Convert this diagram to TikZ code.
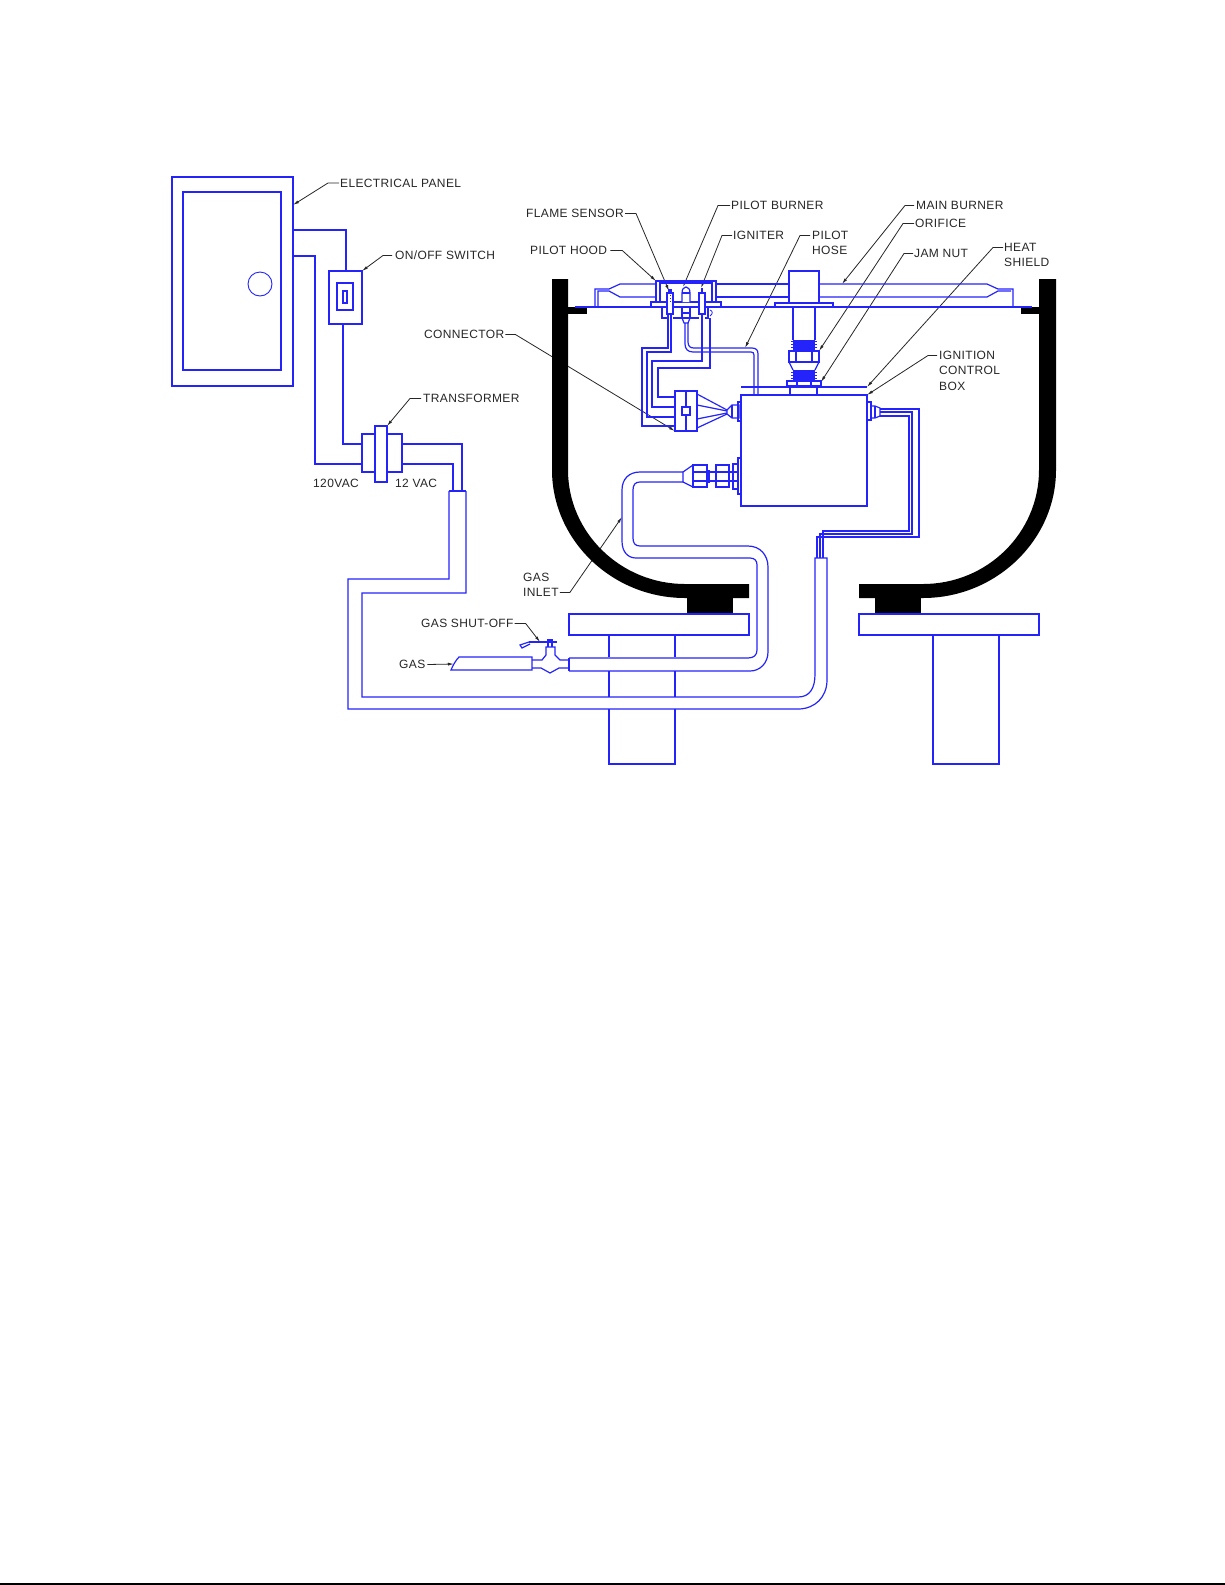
\documentclass[tikz,border=0pt]{standalone}
\usepackage{fontspec}
\setmainfont[LetterSpace=3]{Liberation Sans}
\usetikzlibrary{arrows.meta}
\definecolor{lineblue}{RGB}{36,36,250}
\tikzset{
  pipe/.style={draw=lineblue, line width=1.2pt, line join=miter},
  thickpipe/.style={draw=lineblue, line width=2.4pt},
  wall/.style={fill=black, draw=none},
  lbl/.style={anchor=west, inner sep=0pt, yshift=-0.5pt, text=black!85, font=\fontsize{12}{14}\selectfont},
  leader/.style={draw=black!85, line width=0.8pt, -{Latex[length=6pt,width=3pt]}}
}

\begin{document}
\begin{tikzpicture}[x=1pt, y=-1pt]
  \useasboundingbox (0, 0) rectangle (1225, 1585);
  \fill[black] (0, 1583) rectangle (1225, 1585);

  % labels
  \node[lbl] (panellbl) at (340, 182.5) {ELECTRICAL PANEL};
  \node[lbl] (switchlbl) at (395, 255) {ON/OFF SWITCH};
  \node[lbl] (connlbl) at (424, 334) {CONNECTOR};
  \node[lbl] (translbl) at (423, 398) {TRANSFORMER};
  \node[lbl] (acleft) at (313, 483) {120VAC};
  \node[lbl] (acright) at (395, 483) {12 VAC};
  \node[lbl] (sensorlbl) at (526, 213) {FLAME SENSOR};
  \node[lbl] (pilotlbl) at (731, 205) {PILOT BURNER};
  \node[lbl] (igniterlbl) at (733, 235) {IGNITER};
  \node[lbl] (hoodlbl) at (530, 250) {PILOT HOOD};
  \node[lbl] (hoselbl) at (812, 235) {PILOT};
  \node[lbl] (hoselblb) at (812, 250) {HOSE};
  \node[lbl] (mainlbl) at (916, 205) {MAIN BURNER};
  \node[lbl] (orificelbl) at (915, 223) {ORIFICE};
  \node[lbl] (jamlbl) at (914, 253) {JAM NUT};
  \node[lbl] (heatlbl) at (1004, 247) {HEAT};
  \node[lbl] (heatlblb) at (1004, 262) {SHIELD};
  \node[lbl] (boxlbl) at (939, 355) {IGNITION};
  \node[lbl] (boxlblb) at (939, 370) {CONTROL};
  \node[lbl] (boxlblc) at (939, 386) {BOX};
  \node[lbl] (inletlbl) at (523, 577) {GAS};
  \node[lbl] (inletlblb) at (523, 592) {INLET};
  \node[lbl] (shutlbl) at (421, 623) {GAS SHUT-OFF};
  \node[lbl] (gaslbl) at (399, 664) {GAS};

  % ends of the leaders
  \coordinate (panelpt) at (293, 205);
  \coordinate (switchpt) at (362, 271);
  \coordinate (connpt) at (675, 431);
  \coordinate (transpt) at (387, 426);
  \coordinate (sensorpt) at (669, 291);
  \coordinate (pilotpt) at (683, 287);
  \coordinate (igniterpt) at (701, 288);
  \coordinate (hoodpt) at (656, 281);
  \coordinate (hosept) at (745, 348);
  \coordinate (mainpt) at (842, 284);
  \coordinate (orificept) at (819, 351);
  \coordinate (jampt) at (821, 382);
  \coordinate (heatpt) at (867, 387);
  \coordinate (boxpt) at (867, 395);
  \coordinate (inletpt) at (622, 517);
  \coordinate (shutpt) at (540, 642);
  \coordinate (gaspt) at (454, 664);

  % leaders, the bowl covers them
  \draw[leader] (panellbl.west) ++(-1, 0) -- ++(-11, 0) -- (panelpt);
  \draw[leader] (switchlbl.west) ++(-3, 0) -- ++(-9, 0) -- (switchpt);
  \draw[leader] (connlbl.east) ++(1, 0) -- ++(10, 0) -- (connpt);
  \draw[leader] (translbl.west) ++(-2, 0) -- ++(-11, 0) -- (transpt);
  \draw[leader] (sensorlbl.east) ++(1, 0) -- ++(11, 0) -- (sensorpt);
  \draw[leader] (pilotlbl.west) ++(-1, 0) -- ++(-12, 0) -- (pilotpt);
  \draw[leader] (igniterlbl.west) ++(-1, 0) -- ++(-10, 0) -- (igniterpt);
  \draw[leader] (hoodlbl.east) ++(3, 0) -- ++(12, 0) -- (hoodpt);
  \draw[leader] (hoselbl.west) ++(-2, 0) -- ++(-10, 0) -- (hosept);
  \draw[leader] (mainlbl.west) ++(-2, 0) -- ++(-9, 0) -- (mainpt);
  \draw[leader] (orificelbl.west) ++(-1, 0) -- ++(-11, 0) -- (orificept);
  \draw[leader] (jamlbl.west) ++(-1, 0) -- ++(-9, 0) -- (jampt);
  \draw[leader] (heatlbl.west) ++(-1, 0) -- ++(-10, 0) -- (heatpt);
  \draw[leader] (boxlbl.west) ++(-2, 0) -- ++(-9, 0) -- (boxpt);
  \draw[leader] (inletlblb.east) ++(1, 0) -- ++(10, 0) -- (inletpt);
  \draw[leader] (shutlbl.east) ++(1, 0) -- ++(11, 0) -- (shutpt);
  \draw[leader] (gaslbl.east) ++(2, 0) -- (gaspt);

  % bowl and its feet
  \fill[wall] (552, 279) -- (552, 470) .. controls (552, 540) and (612, 598) .. (685, 598)
    -- (749, 598) -- (749, 584) -- (685, 584) .. controls (621, 584) and (568, 533) .. (568, 470)
    -- (568, 279) -- cycle;
  \fill[wall] (1056, 279) -- (1056, 470) .. controls (1056, 540) and (996, 598) .. (923, 598)
    -- (859, 598) -- (859, 584) -- (923, 584) .. controls (987, 584) and (1039, 533) .. (1039, 470)
    -- (1039, 279) -- cycle;
  \fill[wall] (687, 590) rectangle (733, 614);
  \fill[wall] (875, 590) rectangle (921, 614);
  \fill[wall] (568, 307) rectangle (587, 314);
  \fill[wall] (1021, 307) rectangle (1039, 314);

  % pedestals
  \draw[pipe] (569, 614) rectangle (749, 635);
  \draw[pipe] (859, 614) rectangle (1039, 635);
  \draw[pipe] (933, 635) -- (933, 764) -- (999, 764) -- (999, 635);
  \draw[pipe] (609, 635) -- (609, 657);
  \draw[pipe] (675, 635) -- (675, 657);
  \draw[pipe] (609, 671) -- (609, 697);
  \draw[pipe] (675, 671) -- (675, 697);
  \draw[pipe] (609, 709) -- (609, 764) -- (675, 764) -- (675, 709);

  % electrical panel and switch
  \draw[pipe] (172, 177) rectangle (293, 386);
  \draw[pipe] (183, 192) rectangle (281, 370);
  \draw[pipe, line width=0.9pt] (260, 284) circle (12);
  \draw[pipe] (329, 271) rectangle (362, 324);
  \draw[pipe] (337, 283) rectangle (353, 310);
  \draw[pipe] (343, 291) rectangle (347, 303);
  \draw[pipe] (293, 230) -- (346, 230) -- (346, 271);
  \draw[pipe] (293, 256) -- (315, 256) -- (315, 464) -- (362, 464);
  \draw[pipe] (343, 324) -- (343, 444) -- (362, 444);

  % transformer
  \draw[pipe] (362, 434) rectangle (402, 472);
  \draw[pipe, fill=white] (375, 426) rectangle (387, 482);
  \draw[pipe] (402, 444) -- (462, 444) -- (462, 491);
  \draw[pipe] (402, 464) -- (453, 464) -- (453, 491);

  % conduit
  \draw[pipe] (449, 491) -- (466, 491);
  \draw[pipe] (449, 491) -- (449, 579) -- (348, 579) -- (348, 709) -- (798, 709)
    .. controls (815, 709) and (827, 697) .. (827, 680) -- (827, 558) -- (815, 558)
    -- (815, 674) .. controls (815, 688) and (810, 697) .. (798, 697)
    -- (362, 697) -- (362, 593) -- (466, 593) -- (466, 491);

  % burner and shield line
  \draw[thickpipe, line width=1.9pt] (575, 307) -- (1032, 307);
  \draw[pipe] (595, 307) -- (595, 289) -- (609, 289) -- (620, 284) -- (656, 284);
  \draw[pipe] (598, 307) -- (598, 291) -- (609, 291) -- (620, 297) -- (656, 297);
  \draw[pipe] (716, 284) -- (789, 284);
  \draw[pipe] (716, 297) -- (789, 297);
  \draw[pipe] (819, 284) -- (987, 284) -- (998, 289) -- (1013, 289) -- (1013, 307);
  \draw[pipe] (819, 297) -- (987, 297) -- (998, 291) -- (1011, 291);

  % burner post, orifice and jam nut
  \draw[pipe] (789, 303) -- (789, 271) -- (819, 271) -- (819, 303);
  \draw[pipe] (775, 303) rectangle (833, 307);
  \draw[pipe] (793, 307) -- (793, 340);
  \draw[pipe] (815, 307) -- (815, 340);
  \fill[lineblue] (793, 340) rectangle (815, 351);
  \foreach \yy in {341, 344, 347} {
    \draw[pipe, line width=0.8pt] (791, \yy) -- (817, \yy);
  }
  \draw[pipe] (789, 351) rectangle (819, 362);
  \draw[pipe] (796, 351) -- (796, 362);
  \draw[pipe] (812, 351) -- (812, 362);
  \draw[pipe] (789, 362) -- (793, 370);
  \draw[pipe] (819, 362) -- (815, 370);
  \fill[lineblue] (793, 370) rectangle (815, 381);
  \foreach \yy in {372, 375, 378} {
    \draw[pipe, line width=0.8pt] (791, \yy) -- (817, \yy);
  }
  \draw[pipe] (787, 381) rectangle (821, 386);
  \draw[pipe] (797, 381) -- (797, 386);
  \draw[pipe] (811, 381) -- (811, 386);
  \draw[thickpipe] (741, 387) -- (867, 387);
  \draw[pipe] (790, 388) -- (790, 395);
  \draw[pipe] (817, 388) -- (817, 395);

  % control box
  \draw[pipe] (741, 395) rectangle (867, 506);

  % pilot hood and its parts
  \draw[pipe] (656, 302) -- (656, 281) -- (716, 281) -- (716, 302);
  \draw[pipe] (660, 302) -- (660, 283) -- (712, 283) -- (712, 302);
  \draw[pipe] (651, 302) rectangle (721, 307);
  \draw[thickpipe, line width=1.5pt] (662, 307) -- (662, 318) -- (667, 318);
  \draw[pipe] (673, 318) -- (682, 318);
  \draw[pipe] (690, 318) -- (699, 318);
  \draw[pipe] (705, 318) -- (708, 318) -- (708, 307);
  \draw[pipe, line width=0.8pt] (710, 310) .. controls (713, 311) and (713, 314) .. (710, 316);
  % flame sensor
  \draw[pipe, fill=white] (667, 293) rectangle (673, 314);
  \draw[pipe] (669, 293) -- (669, 290) -- (671, 290) -- (671, 293);
  \draw[pipe, dotted, line width=0.8pt] (670, 295) -- (670, 302);
  % pilot burner
  \draw[pipe, fill=white] (682, 302) -- (682, 293) .. controls (682, 289) and (684, 287) .. (686, 287)
    .. controls (688, 287) and (690, 289) .. (690, 293) -- (690, 302);
  \draw[pipe] (682, 293) -- (690, 293);
  \draw[pipe, line width=1.5pt] (682, 307) -- (682, 313) -- (690, 313) -- (690, 307);
  \draw[pipe] (682, 313) -- (682, 318) -- (690, 318) -- (690, 313);
  \draw[pipe] (682, 318) -- (684, 323) -- (688, 323) -- (690, 318);
  % igniter
  \draw[pipe, fill=white] (699, 293) rectangle (705, 314);
  \draw[pipe] (702, 293) -- (702, 288);

  % wires to the connector
  \draw[pipe] (668, 314) -- (668, 348) -- (642, 348) -- (642, 426) -- (675, 426);
  \draw[pipe] (671, 314) -- (671, 352) -- (647, 352) -- (647, 417) -- (675, 417);
  \draw[pipe] (702, 314) -- (702, 361) -- (652, 361) -- (652, 407) -- (675, 407);
  \draw[pipe] (710, 318) -- (710, 368) -- (658, 368) -- (658, 397) -- (675, 397);

  % connector and left fitting
  \draw[pipe] (675, 391) rectangle (697, 431);
  \draw[pipe] (686, 391) -- (686, 431);
  \draw[pipe, fill=white] (682, 407) rectangle (690, 415);
  \draw[pipe] (697, 394) -- (727, 410);
  \draw[pipe] (697, 405) -- (727, 411);
  \draw[pipe] (697, 419) -- (727, 413);
  \draw[pipe] (697, 428) -- (727, 414);
  \draw[pipe] (727, 410) -- (732, 405) -- (739, 405) -- (739, 418) -- (732, 418) -- (727, 414) -- cycle;
  \draw[pipe] (732, 405) -- (732, 418);
  \draw[pipe] (738, 402) rectangle (741, 421);

  % pilot hose
  \draw[pipe] (685, 323) -- (685, 344) .. controls (685, 349) and (688, 352) .. (693, 352)
    -- (751, 352) .. controls (753, 352) and (754, 353) .. (754, 355) -- (754, 395);
  \draw[pipe] (688, 323) -- (688, 342) .. controls (688, 346) and (690, 348) .. (694, 348)
    -- (752, 348) .. controls (756, 348) and (758, 350) .. (758, 354) -- (758, 395);

  % right fitting and its three wires
  \draw[pipe] (867, 402) rectangle (871, 420);
  \draw[pipe] (871, 406) -- (875, 406) -- (880, 408) -- (880, 416) -- (875, 418) -- (871, 418);
  \draw[pipe] (875, 406) -- (875, 418);
  \draw[pipe] (880, 409) -- (919, 409) -- (919, 537) -- (817, 537) -- (817, 558);
  \draw[pipe] (880, 412) -- (912, 412) -- (912, 534) -- (820, 534) -- (820, 558);
  \draw[pipe] (880, 416) -- (909, 416) -- (909, 531) -- (823, 531) -- (823, 558);

  % gas fittings
  \draw[pipe] (738, 458) rectangle (741, 494);
  \draw[pipe] (733, 464) rectangle (738, 489);
  \draw[pipe] (733, 472) -- (738, 472);
  \draw[pipe] (733, 481) -- (738, 481);
  \draw[pipe] (716, 465) rectangle (729, 487);
  \draw[pipe] (716, 472) -- (729, 472);
  \draw[pipe] (716, 481) -- (729, 481);
  \draw[pipe] (729, 472) -- (733, 472);
  \draw[pipe] (729, 481) -- (733, 481);
  \fill[lineblue] (707, 470) rectangle (710, 483);
  \draw[pipe] (710, 472) -- (716, 472);
  \draw[pipe] (710, 481) -- (716, 481);
  \draw[pipe] (693, 465) rectangle (707, 487);
  \draw[pipe] (693, 472) -- (707, 472);
  \draw[pipe] (693, 481) -- (707, 481);
  \draw[pipe] (693, 465) -- (683, 472) -- (683, 482) -- (693, 487);

  % gas hose
  \draw[pipe] (683, 472) -- (640, 472) .. controls (629, 472) and (622, 479) .. (622, 490)
    -- (622, 541) .. controls (622, 552) and (628, 558) .. (636, 558)
    -- (750, 558) .. controls (755, 558) and (757, 561) .. (757, 565)
    -- (757, 650) .. controls (757, 655) and (754, 658) .. (748, 658) -- (569, 658);
  \draw[pipe] (683, 482) -- (640, 482) .. controls (635, 482) and (633, 485) .. (633, 490)
    -- (633, 538) .. controls (633, 543) and (635, 546) .. (640, 546)
    -- (748, 546) .. controls (760, 546) and (768, 555) .. (768, 567)
    -- (768, 652) .. controls (768, 663) and (760, 671) .. (750, 671) -- (569, 671);
  \draw[pipe] (569, 658) -- (569, 671);

  % gas pipe and shut-off valve
  \draw[pipe] (459, 657) -- (532, 657) -- (532, 670) -- (451, 670)
    .. controls (453, 665) and (456, 660) .. (459, 657) -- cycle;
  \draw[pipe] (532, 660) -- (542, 660) -- (546, 655) -- (546, 647) -- (555, 647)
    -- (555, 655) -- (560, 660) -- (569, 660);
  \draw[pipe] (532, 668) -- (541, 668) -- (550, 673) -- (559, 668) -- (569, 668);
  \draw[pipe] (548, 647) -- (548, 640) -- (552, 640) -- (552, 647);
  \draw[thickpipe, line width=1.7pt] (529, 642) -- (557, 642);
  \draw[pipe] (529, 642) -- (520, 645) -- (522, 648) -- (530, 644);
\end{tikzpicture}
\end{document}
